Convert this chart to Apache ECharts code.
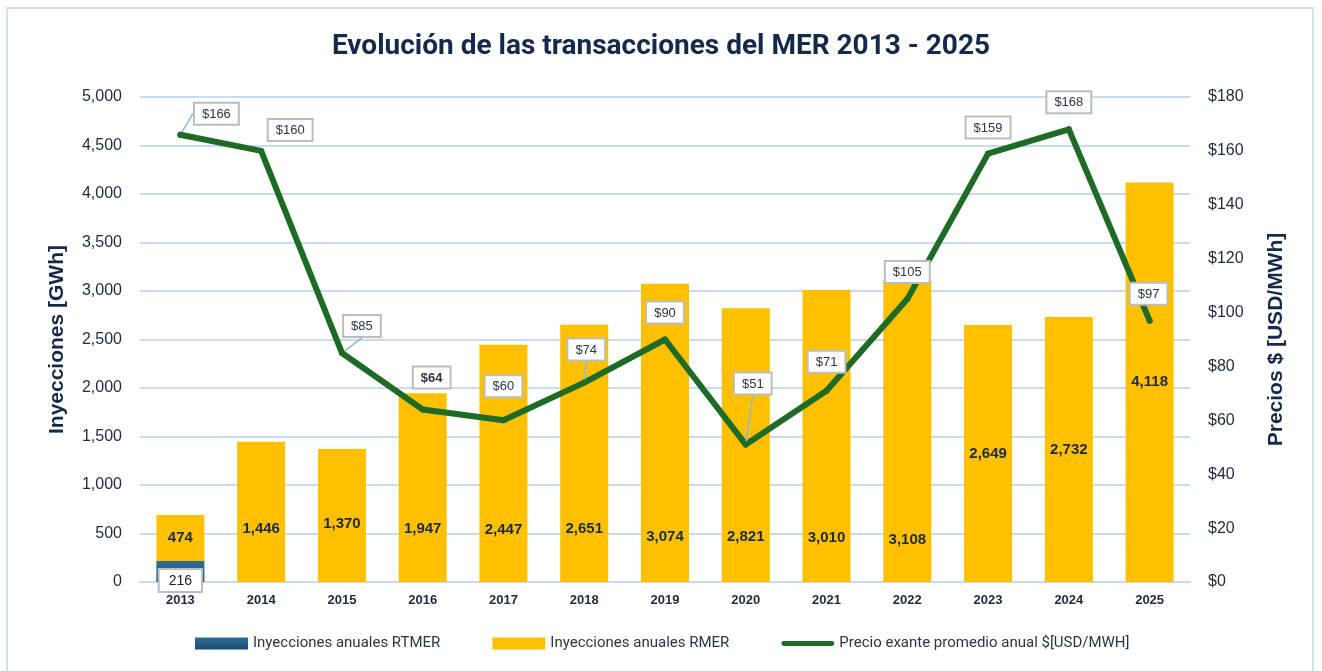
<!DOCTYPE html>
<html>
<head>
<meta charset="utf-8">
<script src="https://cdn.jsdelivr.net/npm/echarts@6/dist/echarts.min.js"></script>
<style>
  html, body { margin: 0; padding: 0; background: #fff; }
  #frame {
    position: absolute; left: 6px; top: 7px; width: 1308px; height: 670px;
    border: 2px solid #cfe0f3; border-bottom: none; box-sizing: border-box;
  }
  #chart { position: absolute; left: 0; top: 0; width: 1322px; height: 671px; }
</style>
</head>
<body>
<div id="frame"></div>
<div id="chart"></div>
<script>
// datos
const years = ["2013", "2014", "2015", "2016", "2017", "2018", "2019", "2020", "2021", "2022", "2023", "2024", "2025"];
const rtmer = [216, null, null, null, null, null, null, null, null, null, null, null, null];
const rmer = [474, 1446, 1370, 1947, 2447, 2651, 3074, 2821, 3010, 3108, 2649, 2732, 4118];
const precio = [166, 160, 85, 64, 60, 74, 90, 51, 71, 105, 159, 168, 97];
const leftTicks = [0, 5000, 500];
const rightTicks = [0, 180, 20];

// desplazamiento de etiquetas (solo estilo)
const priceLabelShift = [[36, -3], [29, -3], [20, -9], [9, -14], [0, -16], [2, -15], [0, -9], [7, -43], [0, -11], [0, -9], [0, -8], [0, -9], [-1, -9]];
const priceLeader = [0, 2, 5, 7];
const rmerLabelDist = [null, 46, 51, 46, 45, 46, 38, 38, 37, 35, null, null, null];

const textDark = "#1d2b3e";
const arial = "Liberation Sans";
const chart = echarts.init(document.getElementById("chart"));

const rmerData = rmer.map(function (v, i) {
  const d = rmerLabelDist[i];
  return {
    value: v,
    label: d == null ? { position: "inside" } : { position: "insideBottom", distance: d }
  };
});

const priceData = precio.map(function (v, i) {
  return {
    value: v,
    label: { fontWeight: i === 3 ? "bold" : "normal" },
    labelLine: { show: priceLeader.indexOf(i) >= 0 }
  };
});

chart.setOption({
  animation: false,
  textStyle: { fontFamily: arial },
  title: {
    text: "Evolución de las transacciones del MER 2013 - 2025",
    left: "center",
    top: 28,
    textStyle: { fontSize: 28, fontWeight: "bold", color: "#15294a", fontFamily: "Roboto" }
  },
  grid: { left: 140, right: 132, top: 97, bottom: 89 },
  legend: {
    left: 190,
    top: 631,
    itemWidth: 53,
    itemHeight: 12,
    itemGap: 52,
    textStyle: { fontSize: 15, color: "#2b3645", fontFamily: "Roboto" },
    data: [
      { name: "Inyecciones anuales RTMER", icon: "rect" },
      { name: "Inyecciones anuales RMER", icon: "rect" },
      { name: "Precio exante promedio anual $[USD/MWH]", icon: "path://M2,0 H51 A2.5,2.5 0 0 1 51,5 H2 A2.5,2.5 0 0 1 2,0 Z" }
    ]
  },
  xAxis: {
    type: "category",
    data: years,
    axisTick: { show: false },
    axisLine: { show: true, lineStyle: { color: "#c7dbf1", width: 2 } },
    axisLabel: { fontSize: 13, fontWeight: "bold", color: textDark, margin: 12 }
  },
  yAxis: [
    {
      type: "value",
      min: leftTicks[0], max: leftTicks[1], interval: leftTicks[2],
      name: "Inyecciones [GWh]",
      nameLocation: "middle",
      nameGap: 72,
      nameTextStyle: { fontSize: 21, fontWeight: "bold", color: "#15294a" },
      axisLine: { show: false },
      axisTick: { show: false },
      axisLabel: {
        fontSize: 16, color: textDark, margin: 18,
        formatter: function (v) { return v.toLocaleString("en-US"); }
      },
      splitLine: { show: true, lineStyle: { color: "#c7dbf1", width: 2 } }
    },
    {
      type: "value",
      min: rightTicks[0], max: rightTicks[1], interval: rightTicks[2],
      name: "Precios $ [USD/MWh]",
      nameLocation: "middle",
      nameGap: 76,
      nameRotate: 90,
      nameTextStyle: { fontSize: 21, fontWeight: "bold", color: "#15294a" },
      axisLine: { show: false },
      axisTick: { show: false },
      axisLabel: { fontSize: 16, color: textDark, margin: 18, formatter: "${value}" },
      splitLine: { show: false }
    }
  ],
  series: [
    {
      name: "Inyecciones anuales RTMER",
      type: "bar",
      stack: "iny",
      barWidth: 48,
      data: rtmer,
      itemStyle: {
        color: new echarts.graphic.LinearGradient(0, 0, 0, 1, [
          { offset: 0, color: "#2f6e98" },
          { offset: 1, color: "#1b4c72" }
        ])
      },
      label: {
        show: true,
        position: "bottom",
        distance: -12,
        fontSize: 14,
        color: "#222",
        backgroundColor: "#fff",
        borderColor: "#bdbdbd",
        borderWidth: 2,
        padding: [4, 9, 3, 9]
      },
      z: 3
    },
    {
      name: "Inyecciones anuales RMER",
      type: "bar",
      stack: "iny",
      barWidth: 48,
      data: rmerData,
      itemStyle: { color: "#ffc000" },
      label: {
        show: true,
        fontSize: 15,
        fontWeight: "bold",
        color: textDark,
        formatter: function (p) { return p.value.toLocaleString("en-US"); }
      }
    },
    {
      name: "Precio exante promedio anual $[USD/MWH]",
      type: "line",
      yAxisIndex: 1,
      data: priceData,
      symbol: "circle",
      symbolSize: 6,
      itemStyle: { color: "#1d6b24" },
      lineStyle: { color: "#1d6b24", width: 6, cap: "round", join: "round" },
      label: {
        show: true,
        position: "top",
        distance: 5,
        fontSize: 13,
        color: "#2b3645",
        backgroundColor: "#fff",
        borderColor: "#bdbdbd",
        borderWidth: 2,
        padding: [4, 7, 3, 7],
        formatter: "${c}"
      },
      labelLine: { show: false, lineStyle: { color: "#8fb8e0", width: 1.5 } },
      labelLayout: function (p) {
        const s = priceLabelShift[p.dataIndex];
        return { dx: s[0], dy: s[1] };
      },
      z: 5
    }
  ]
});
</script>
</body>
</html>
